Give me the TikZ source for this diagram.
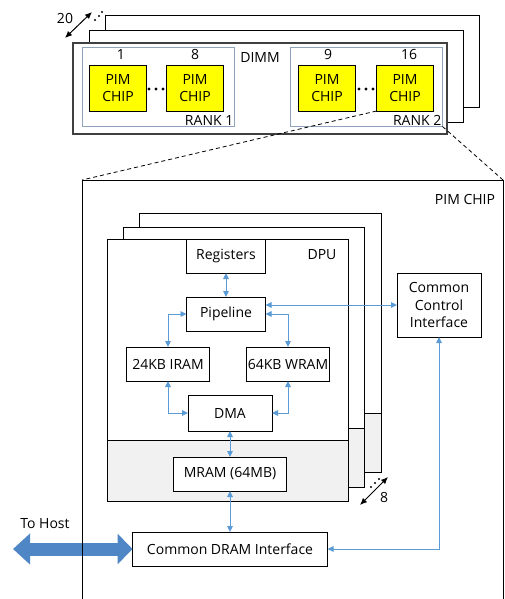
\documentclass[tikz,border=0pt]{standalone}
\usepackage{fontspec}
\setmainfont{Open Sans}
\usetikzlibrary{arrows.meta}
\definecolor{linkblue}{RGB}{91,155,213}
\definecolor{hostblue}{RGB}{79,134,198}
\definecolor{rankline}{RGB}{143,164,186}
\definecolor{chipyellow}{RGB}{255,255,0}
\definecolor{mramgray}{RGB}{241,241,241}
\tikzset{
  blk/.style={draw, fill=white, inner sep=0pt, outer sep=0pt, line width=0.8pt},
  chipbox/.style={blk, fill=chipyellow, minimum width=57, minimum height=46, align=center},
  rankbox/.style={draw=rankline, line width=1pt, inner sep=0pt, minimum width=152, minimum height=78},
  link/.style={draw=linkblue, line width=0.9pt, {Triangle[length=6pt,width=5.5pt]}-{Triangle[length=6pt,width=5.5pt]}},
  stackarrow/.style={line width=1pt, {Latex[length=7pt,width=6pt]}-{Latex[length=7pt,width=6pt]}},
  hostarrow/.style={draw=hostblue, line width=13pt, {Triangle[length=17pt,width=30pt]}-{Triangle[length=15pt,width=30pt]}},
}
\begin{document}
\begin{tikzpicture}[x=1pt, y=-1pt, every node/.style={font=\fontsize{14}{17.5}\selectfont}]
  \useasboundingbox (0,0) rectangle (505,599);

  % DIMM stack
  \draw[blk] (105,15) rectangle (479,107);
  \draw[blk] (89,30) rectangle (463,122);
  \draw[blk, draw=darkgray, line width=1.3pt] (73,43) rectangle (447,134);
  \node[rankbox] (rank1) at (158,87) {};
  \node[rankbox] (rank2) at (366,87) {};
  \node (dimmlbl) at (260,58) {DIMM};
  \node[anchor=south east, inner sep=1pt] (rank1lbl) at (rank1.south east) {RANK 1};
  \node[anchor=south east, inner sep=1pt] (rank2lbl) at (rank2.south east) {RANK 2};

  \node[chipbox] (chip1) at (118,88) {PIM\\CHIP};
  \node[chipbox] (chip8) at (195,88) {PIM\\CHIP};
  \node[chipbox] (chip9) at (327,88) {PIM\\CHIP};
  \node[chipbox] (chip16) at (405,88) {PIM\\CHIP};
  \node (n1) at (121,55) {1};
  \node (n8) at (195,55) {8};
  \node (n9) at (328,55) {9};
  \node (n16) at (409,55) {16};
  \foreach \x in {149,156,163,359,366,373}
    \fill (\x,89) circle (1.6pt);

  \coordinate (d1) at (65,38);
  \coordinate (d2) at (92,12);
  \draw[stackarrow] (d1) -- (d2);
  \node (n20) at (65,18) {20};
  \foreach \p in {(95,20),(99,16),(102,12)}
    \fill \p circle (1.1pt);

  % zoom into one chip
  \coordinate (pimtl) at (82,180);
  \coordinate (pimtr) at (503,180);
  \draw[dash pattern=on 4pt off 3pt, line width=0.8pt] (chip16.south west) -- (pimtl);
  \draw[dash pattern=on 4pt off 3pt, line width=0.8pt] (rank2.south east) -- (pimtr);
  \node (pimlbl) at (465,199) {PIM CHIP};

  % DPU stack
  \foreach \l/\t/\r/\g/\b in {139/213/381/413/472, 123/227/364/428/487, 107/239/348/440/501} {
    \fill[white] (\l,\t) rectangle (\r,\b);
    \fill[mramgray] (\l,\g) rectangle (\r,\b);
    \draw[line width=0.8pt] (\l,\t) rectangle (\r,\b);
    \draw[line width=0.8pt] (\l,\g) -- (\r,\g);
  }
  \node (dpulbl) at (322,255) {DPU};
  \node (n8b) at (384,497) {8};
  \coordinate (s1) at (360,505);
  \coordinate (s2) at (388,477);
  \draw[stackarrow] (s1) -- (s2);
  \foreach \p in {(371,487),(375,483),(379,479)}
    \fill \p circle (1.1pt);

  \node[blk, minimum width=79, minimum height=34] (regs) at (226,256) {Registers};
  \node[blk, minimum width=79, minimum height=34] (pipe) at (226,314) {Pipeline};
  \node[blk, minimum width=83, minimum height=34] (iram) at (168,364) {24KB IRAM};
  \node[blk, minimum width=83, minimum height=34] (wram) at (288,364) {64KB WRAM};
  \node[blk, minimum width=84, minimum height=36] (dma) at (230,413) {DMA};
  \node[blk, minimum width=113, minimum height=34] (mram) at (230,474) {MRAM (64MB)};
  \node[blk, minimum width=84, minimum height=64, align=center] (cci) at (439,305) {Common\\Control\\Interface};
  \node[blk, minimum width=195, minimum height=34] (cdi) at (230,549) {Common DRAM Interface};

  \draw[link] (regs) -- (pipe);
  \draw[link] (pipe.east |- cci.west) -- (cci.west);
  \draw[link] (pipe.west) -| (iram.north);
  \draw[link] (pipe.east) -| (wram.north);
  \draw[link] (iram.south) |- (dma.west);
  \draw[link] (wram.south) |- (dma.east);
  \draw[link] (dma) -- (mram);
  \draw[link] (mram) -- (cdi);
  \draw[link] (cci.south) |- (cdi.east);

  \coordinate (host) at (13,549);
  \draw[hostarrow] (host) -- (cdi.west);
  \node (hostlbl) at (45,524) {To Host};

  \draw[line width=0.8pt] (82,599) -- (pimtl) -- (pimtr) -- (503,599);
\end{tikzpicture}
\end{document}
